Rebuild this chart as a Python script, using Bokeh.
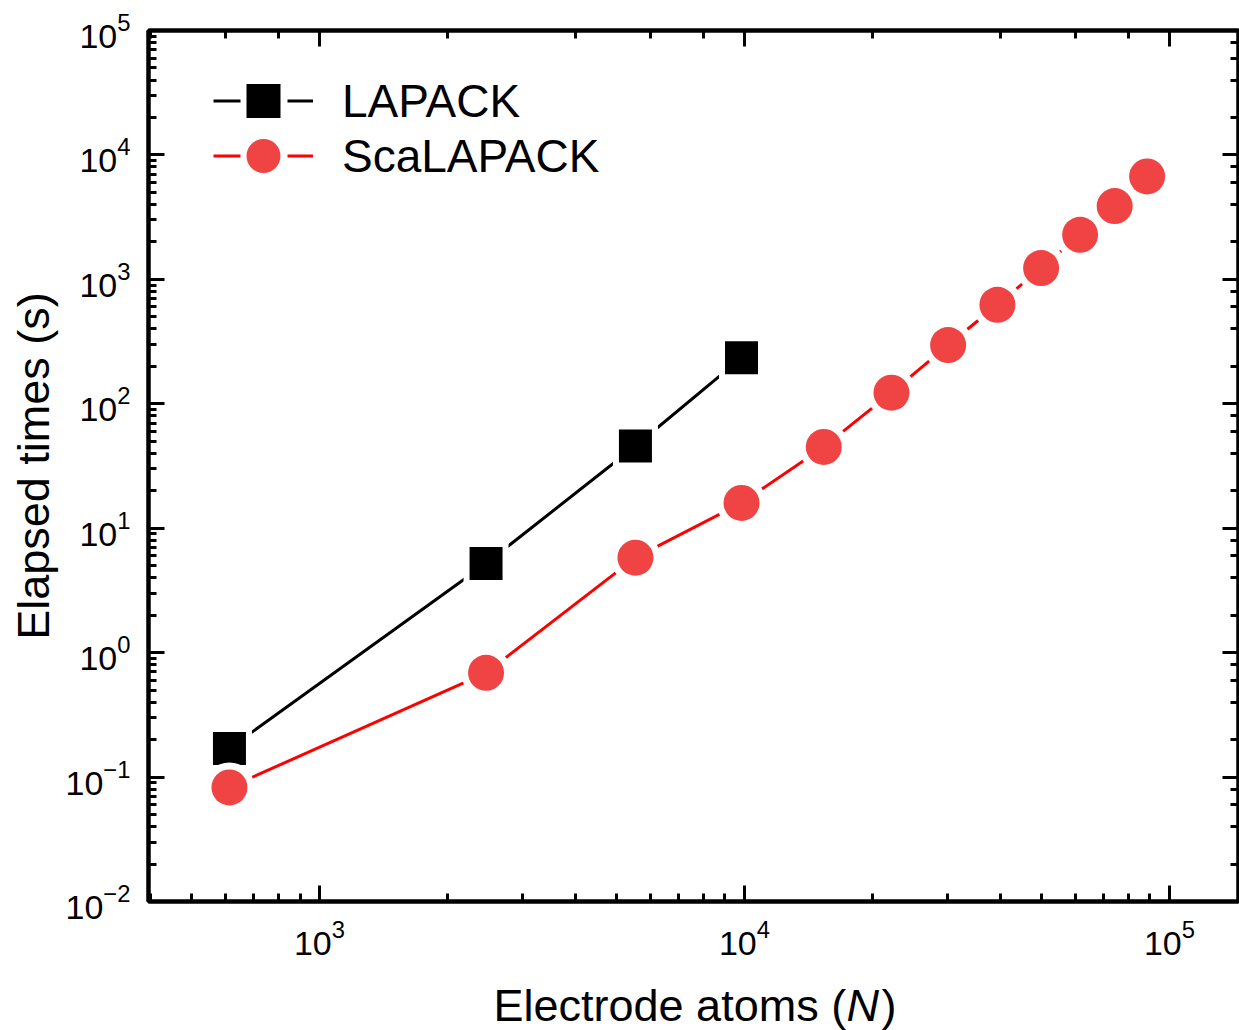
from bokeh.plotting import figure
from bokeh.layouts import column
from bokeh.models import LogAxis, Legend, LegendItem, Label, Range1d, ColumnDataSource
from bokeh.embed import file_html
from bokeh.resources import INLINE

# ---- data ----
lapack_n = [614, 2466, 5540, 9843]
lapack_t = [0.170, 5.20, 45.8, 234]

scalapack_n = [614, 2466, 5540, 9843, 15370, 22180, 30150, 39380, 49900, 61640, 74330, 88620]
scalapack_t = [0.0826, 0.689, 5.80, 15.96, 45.0, 122.8, 296.6, 625, 1233, 2282, 3879, 6716]

series_labels = ["LAPACK", "ScaLAPACK"]
x_label_parts = ["Electrode atoms (", "N", ")"]
y_label = "Elapsed times (s)"

FONT = "Liberation Sans"

p = figure(width=1239, height=975,
           x_axis_type="log", y_axis_type="log",
           x_range=Range1d(396, 145400), y_range=Range1d(0.01, 1e5),
           output_backend="svg", toolbar_location=None,
           min_border_left=148, min_border_right=1,
           min_border_top=30, min_border_bottom=74)
p.xgrid.visible = False
p.ygrid.visible = False
p.outline_line_color = "black"
p.outline_line_width = 4
p.background_fill_color = "white"
p.border_fill_color = "white"

bottom_axis = p.below[0]
left_axis = p.left[0]
top_axis = LogAxis()
right_axis = LogAxis()
p.add_layout(top_axis, "above")
p.add_layout(right_axis, "right")

for ax in [bottom_axis, left_axis, top_axis, right_axis]:
    ax.axis_line_width = 4
    ax.axis_line_color = "black"
    ax.major_tick_in = 16
    ax.major_tick_out = 0
    ax.minor_tick_in = 8
    ax.minor_tick_out = 0
    ax.major_tick_line_width = 3
    ax.minor_tick_line_width = 3
    ax.major_tick_line_color = "black"
    ax.minor_tick_line_color = "black"
    ax.major_label_text_font = FONT
    ax.major_label_text_font_size = "34px"
    ax.major_label_text_color = "black"

for ax in [top_axis, right_axis]:
    ax.major_label_text_font_size = "1px"
    ax.major_label_text_alpha = 0
    ax.major_label_standoff = 0

bottom_axis.major_label_standoff = 18
left_axis.major_label_standoff = 18
left_axis.axis_label = y_label
left_axis.axis_label_text_font = FONT
left_axis.axis_label_text_font_size = "45px"
left_axis.axis_label_text_font_style = "normal"
left_axis.axis_label_text_color = "black"
left_axis.axis_label_standoff = 4

src1 = ColumnDataSource(dict(x=lapack_n, y=lapack_t))
src2 = ColumnDataSource(dict(x=scalapack_n, y=scalapack_t))

l1 = p.line("x", "y", source=src1, line_color="black", line_width=3)
h1 = p.scatter("x", "y", source=src1, marker="square", size=45, fill_color="white", line_color=None)
m1 = p.scatter("x", "y", source=src1, marker="square", size=33, fill_color="black", line_color=None)

l2 = p.line("x", "y", source=src2, line_color="#FF0000", line_width=3)
h2 = p.scatter("x", "y", source=src2, marker="circle", size=50, fill_color="white", line_color=None)
m2 = p.scatter("x", "y", source=src2, marker="circle", size=36, fill_color="#F04444", line_color=None)

# legend-only line renderers (segment - gap - segment)
d1 = p.line(x=[lapack_n[0]], y=[lapack_t[0]], line_color="black", line_width=3, line_dash="27 47 27")
d2 = p.line(x=[scalapack_n[0]], y=[scalapack_t[0]], line_color="#FF0000", line_width=3, line_dash="27 47 27")

leg_kw = dict(glyph_width=100, glyph_height=85, label_standoff=29, spacing=0,
              padding=0, margin=0, border_line_color=None, background_fill_alpha=0,
              label_text_font=FONT, label_text_font_size="46px",
              label_text_color="black", label_height=50)
legend1 = Legend(items=[LegendItem(label=series_labels[0], renderers=[d1, m1])],
                 location=(65, 758), **leg_kw)
legend2 = Legend(items=[LegendItem(label=series_labels[1], renderers=[d2, m2])],
                 location=(65, 703), **leg_kw)
p.add_layout(legend1)
p.add_layout(legend2)

# x axis title strip (so the italic N can be real text)
p2 = figure(width=1239, height=55, x_range=Range1d(0, 1239), y_range=Range1d(0, 55),
            output_backend="svg", toolbar_location=None,
            x_axis_location=None, y_axis_location=None, min_border=0,
            outline_line_color=None)
p2.xgrid.visible = False
p2.ygrid.visible = False
lab_kw = dict(x_units="screen", y_units="screen", y=25, text_font=FONT,
              text_font_size="45px", text_color="black", text_baseline="alphabetic")
p2.add_layout(Label(x=345, text=x_label_parts[0], **lab_kw))
p2.add_layout(Label(x=698, text=x_label_parts[1], text_font_style="italic", **lab_kw))
p2.add_layout(Label(x=733, text=x_label_parts[2], **lab_kw))

layout = column(p, p2, spacing=0)
open("out.html", "w").write(file_html(layout, INLINE))
